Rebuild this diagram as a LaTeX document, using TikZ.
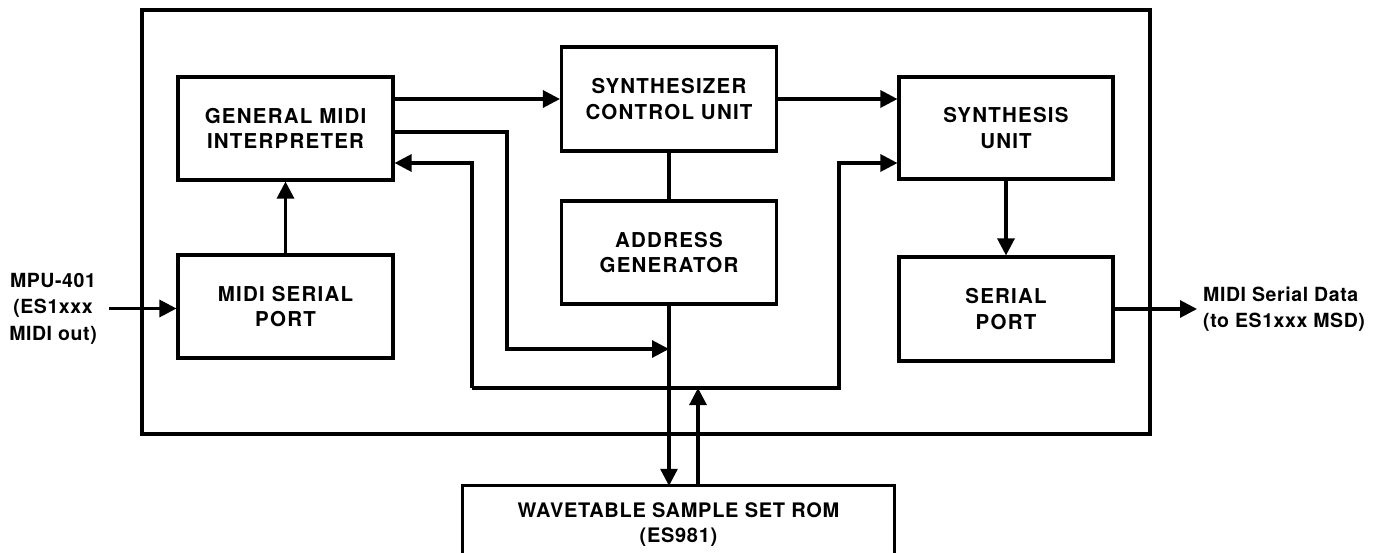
\documentclass[tikz,border=0pt]{standalone}
\usepackage{fontspec}
\setmainfont{TeX Gyre Heros}[LetterSpace=3]
\usetikzlibrary{arrows.meta}
\tikzset{
  wire/.style={line width=3.1pt},
  arr/.style={wire,-{Triangle[length=17pt,width=17pt]}},
  blk/.style={draw,line width=3.1pt,minimum width=215pt,minimum height=103pt,
    align=center,inner sep=0pt,
    font=\fontsize{20.5}{25.5}\selectfont\bfseries\addfontfeatures{LetterSpace=6}},
  lbl/.style={font=\fontsize{19.5}{26.5}\selectfont\bfseries,inner sep=0pt}
}
\begin{document}
\begin{tikzpicture}[x=1pt,y=-1pt]
\useasboundingbox[fill=white] (0,0) rectangle (1385,552);

% chip outline
\node[draw,line width=3.1pt,minimum width=1008pt,minimum height=424pt,inner sep=0pt] (chip) at (646,222) {};

% functional blocks
\node[blk] (gmi)  at (285.5,128.5) {GENERAL MIDI\\INTERPRETER};
\node[blk] (mport) at (285.5,306.5) {MIDI SERIAL\\PORT};
\node[blk,minimum height=104pt] (scu) at (669,99) {SYNTHESIZER\\CONTROL UNIT};
\node[blk] (addr) at (669,252.5) {ADDRESS\\GENERATOR};
\node[blk,minimum width=214pt,minimum height=102pt] (syn) at (1006,128) {SYNTHESIS\\UNIT};
\node[blk,minimum width=214pt,minimum height=104pt] (sport) at (1006,309) {SERIAL\\PORT};

% external ROM (extends past the lower edge)
\node[minimum width=431pt,minimum height=77pt,inner sep=0pt,align=center,
      font=\fontsize{20}{25}\selectfont\bfseries\addfontfeatures{LetterSpace=3.5}] (rom) at (678.5,524.5)
      {WAVETABLE SAMPLE SET ROM\\(ES981)};
\draw[wire] (rom.south west) -- (rom.north west) -- (rom.north east) -- (rom.south east);

% external labels
\node[lbl,align=center,inner sep=12pt] (mpu) at (53,308.5) {MPU-401\\(ES1xxx\\MIDI out)};
\node[lbl,align=left,anchor=west,inner sep=6pt] (msd) at (1197,309) {MIDI Serial Data\\(to ES1xxx MSD)};

% routing points
\coordinate (gmturn) at (507,349);
\coordinate (busL) at (472,388);
\coordinate (busR) at (839,388);
\coordinate (romup) at (698,388);

% connections
\draw[arr] (mpu.east) -- (mport.west |- mpu.east);
\draw[arr] (mport) -- (gmi);
\draw[arr] (gmi.east |- scu.west) -- (scu.west);
\draw[arr] (scu.east) -- (scu.east -| syn.west);
\draw[wire] (scu) -- (addr);
\draw[arr] ([yshift=-3.5pt]gmi.east) -| (gmturn) -- (gmturn -| addr.south);
\draw[arr] (busL) |- ([yshift=-34.5pt]gmi.east);
\draw[arr] (busL) -- (busR) |- ([yshift=-35pt]syn.west);
\draw[arr] (addr.south) -- (addr.south |- rom.north);
\draw[arr] (romup |- rom.north) -- (romup);
\draw[arr] (syn) -- (sport);
\draw[arr] (sport.east) -- (sport.east -| msd.west);
\end{tikzpicture}
\end{document}
